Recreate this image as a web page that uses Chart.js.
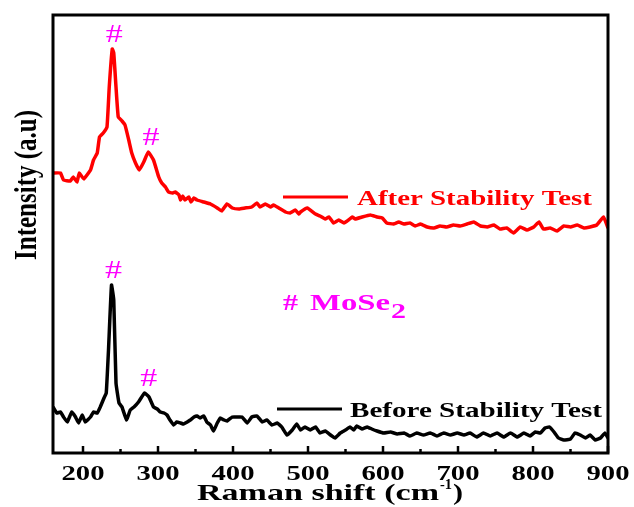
<!DOCTYPE html>
<html>
<head>
<meta charset="utf-8">
<script src="https://cdn.jsdelivr.net/npm/chart.js@4/dist/chart.umd.min.js"></script>
<style>
  body { margin: 0; background: #fff; }
  #wrap { width: 634px; height: 507px; }
</style>
</head>
<body>
<div id="wrap"><canvas id="ramanChart"></canvas></div>
<script>
// Raman shift (cm-1) and intensity (a.u.)
const shiftAfter = [160,170,174,183,187,192,195,201,210,214,219,222,227,232,235,239,241,244,247,252,256,261,265,270,275,281,287,294,
  301,305,310,314,319,323,328,330,333,336,341,344,348,352,361,370,379,385,392,399,408,416,425,432,436,443,450,454,461,470,476,483,488,
  490,499,510,516,523,528,534,541,548,554,559,563,572,583,592,599,605,614,621,628,636,643,650,659,668,676,685,694,703,712,
  721,730,739,748,756,765,774,783,792,801,808,814,823,832,841,850,859,868,876,885,894,900];
const intensityAfter = [280,280,273,272,276,271,280,274,283,293,300,316,320,326,366,404,400,366,336,332,328,313,300,290,283,291,301,293,
  276,270,266,261,260,261,258,253,257,253,256,251,255,253,251,249,245,242,249,245,244,245,246,250,246,249,246,248,245,241,240,243,239,
  241,245,239,237,234,236,230,233,230,233,236,234,236,238,236,235,230,229,231,229,230,227,229,226,225,227,226,228,227,229,
  231,227,226,228,224,225,220,226,223,226,231,224,225,222,227,226,228,225,226,228,236,225];

const shiftBefore = [160,165,170,174,179,185,190,194,199,203,210,214,219,223,228,231,234,238,241,244,248,252,258,263,268,274,282,288,
  294,299,303,308,312,316,321,325,330,334,339,343,348,352,356,361,365,370,374,379,383,388,392,399,405,412,419,425,432,439,445,452,459,465,472,479,485,
  490,496,503,510,516,523,530,536,543,550,556,561,565,572,579,585,592,601,610,619,628,636,645,654,663,672,681,690,699,708,
  716,725,734,743,752,761,770,779,788,796,803,810,816,822,828,834,841,850,856,863,870,876,883,890,896,900];
const intensityBefore = [46,40,41,36,31,41,36,30,38,31,36,41,40,46,55,60,103,168,153,70,50,46,33,43,46,51,60,56,
  46,44,41,40,38,33,28,31,30,29,31,33,36,37,35,37,31,28,22,30,35,33,32,36,36,36,30,36,37,31,33,28,30,26,18,23,29,
  23,26,23,26,20,22,18,15,20,23,26,23,27,24,26,24,22,20,21,19,20,17,20,18,20,17,20,18,20,18,
  20,16,20,17,20,16,20,16,20,17,21,20,25,26,21,15,13,14,20,18,15,18,13,15,20,15];

const peaksAfter = [239, 288];
const peaksBefore = [238, 285];

const majorTicks = [200, 300, 400, 500, 600, 700, 800, 900];
const minorTicks = [250, 350, 450, 550, 650, 750, 850];
const tickLabels = ['200', '300', '400', '500', '600', '700', '800', '900'];

const SERIF = '"Liberation Serif", "DejaVu Serif", serif';
const MAGENTA = '#ff00ff';

function toPoints(xs, ys) {
  return xs.map((x, i) => ({ x: x, y: ys[i] }));
}

// draw text squeezed/stretched horizontally to a target width
function fitText(ctx, txt, x, y, font, color, width, align) {
  ctx.save();
  ctx.font = font;
  ctx.fillStyle = color;
  ctx.textBaseline = 'alphabetic';
  ctx.textAlign = 'left';
  const w = ctx.measureText(txt).width;
  const sx = width / w;
  let x0 = x;
  if (align === 'center') x0 = x - width / 2;
  if (align === 'right') x0 = x - width;
  ctx.translate(x0, y);
  ctx.scale(sx, 1);
  ctx.fillText(txt, 0, 0);
  ctx.restore();
}

function line(ctx, x1, y1, x2, y2, color, w) {
  ctx.save();
  ctx.strokeStyle = color;
  ctx.lineWidth = w;
  ctx.beginPath();
  ctx.moveTo(x1, y1);
  ctx.lineTo(x2, y2);
  ctx.stroke();
  ctx.restore();
}

function peakTop(xs, ys, at) {
  let best = 0;
  xs.forEach((x, i) => { if (Math.abs(x - at) <= 4 && ys[i] > best) best = ys[i]; });
  return best;
}

const decorations = {
  id: 'decorations',
  afterDraw(chart) {
    const ctx = chart.ctx;
    const a = chart.chartArea;
    const xs = chart.scales.x, ys = chart.scales.y;

    // frame
    ctx.save();
    ctx.strokeStyle = '#000';
    ctx.lineWidth = 3;
    ctx.strokeRect(a.left, a.top, a.right - a.left, a.bottom - a.top);
    ctx.restore();

    // inward ticks on bottom axis
    majorTicks.forEach(v => {
      const px = xs.getPixelForValue(v);
      line(ctx, px, a.bottom, px, a.bottom - 7, '#000', 2.5);
    });
    minorTicks.forEach(v => {
      const px = xs.getPixelForValue(v);
      line(ctx, px, a.bottom, px, a.bottom - 4, '#000', 2.5);
    });
    majorTicks.forEach((v, i) => {
      const px = xs.getPixelForValue(v);
      fitText(ctx, tickLabels[i], px, 480, 'bold 20px ' + SERIF, '#000', 43, 'center');
    });

    // axis titles
    fitText(ctx, 'Raman shift (cm', 197, 500, 'bold 23px ' + SERIF, '#000', 242, 'left');
    fitText(ctx, '-1', 440, 489, 'bold 15px ' + SERIF, '#000', 12, 'left');
    fitText(ctx, ')', 453, 500, 'bold 23px ' + SERIF, '#000', 10, 'left');

    ctx.save();
    ctx.translate(36, 185);
    ctx.scale(1.35, 1);
    ctx.rotate(-Math.PI / 2);
    ctx.font = 'bold 24px ' + SERIF;
    const tw = ctx.measureText('Intensity (a.u)').width;
    ctx.scale(150 / tw, 1);
    ctx.fillStyle = '#000';
    ctx.textAlign = 'center';
    ctx.textBaseline = 'alphabetic';
    ctx.fillText('Intensity (a.u)', 0, 0);
    ctx.restore();

    // peak marks
    const marks = (pk, sx, sy) => pk.forEach(p => {
      const px = xs.getPixelForValue(p);
      const py = ys.getPixelForValue(peakTop(sx, sy, p));
      fitText(ctx, '#', px + 2, py - 7, '25px ' + SERIF, MAGENTA, 17, 'center');
    });
    marks(peaksAfter, shiftAfter, intensityAfter);
    marks(peaksBefore, shiftBefore, intensityBefore);

    // legend-like labels
    line(ctx, 283, 197, 348, 197, '#ff0000', 3);
    fitText(ctx, 'After Stability Test', 357, 205, 'bold 22px ' + SERIF, '#ff0000', 235, 'left');
    line(ctx, 277, 409, 342, 409, '#000', 3);
    fitText(ctx, 'Before Stability Test', 350, 417, 'bold 22px ' + SERIF, '#000', 252, 'left');

    // compound label
    fitText(ctx, '#', 283, 310, 'bold 24px ' + SERIF, MAGENTA, 15, 'left');
    fitText(ctx, 'MoSe', 310, 310, 'bold 23px ' + SERIF, MAGENTA, 80, 'left');
    fitText(ctx, '2', 391, 318, 'bold 21px ' + SERIF, MAGENTA, 15, 'left');
  }
};

new Chart(document.getElementById('ramanChart'), {
  type: 'line',
  data: {
    datasets: [
      {
        label: 'After Stability Test',
        data: toPoints(shiftAfter, intensityAfter),
        borderColor: '#ff0000',
        borderWidth: 3.5,
        pointRadius: 0,
        tension: 0.1
      },
      {
        label: 'Before Stability Test',
        data: toPoints(shiftBefore, intensityBefore),
        borderColor: '#000000',
        borderWidth: 3.5,
        pointRadius: 0,
        tension: 0.1
      }
    ]
  },
  options: {
    responsive: true,
    maintainAspectRatio: false,
    animation: false,
    layout: { padding: { left: 53, top: 15, right: 26, bottom: 54 } },
    plugins: { legend: { display: false }, tooltip: { enabled: false } },
    scales: {
      x: { type: 'linear', min: 160, max: 900, display: false },
      y: { min: 0, max: 438, display: false }
    }
  },
  plugins: [decorations]
});
</script>
</body>
</html>
